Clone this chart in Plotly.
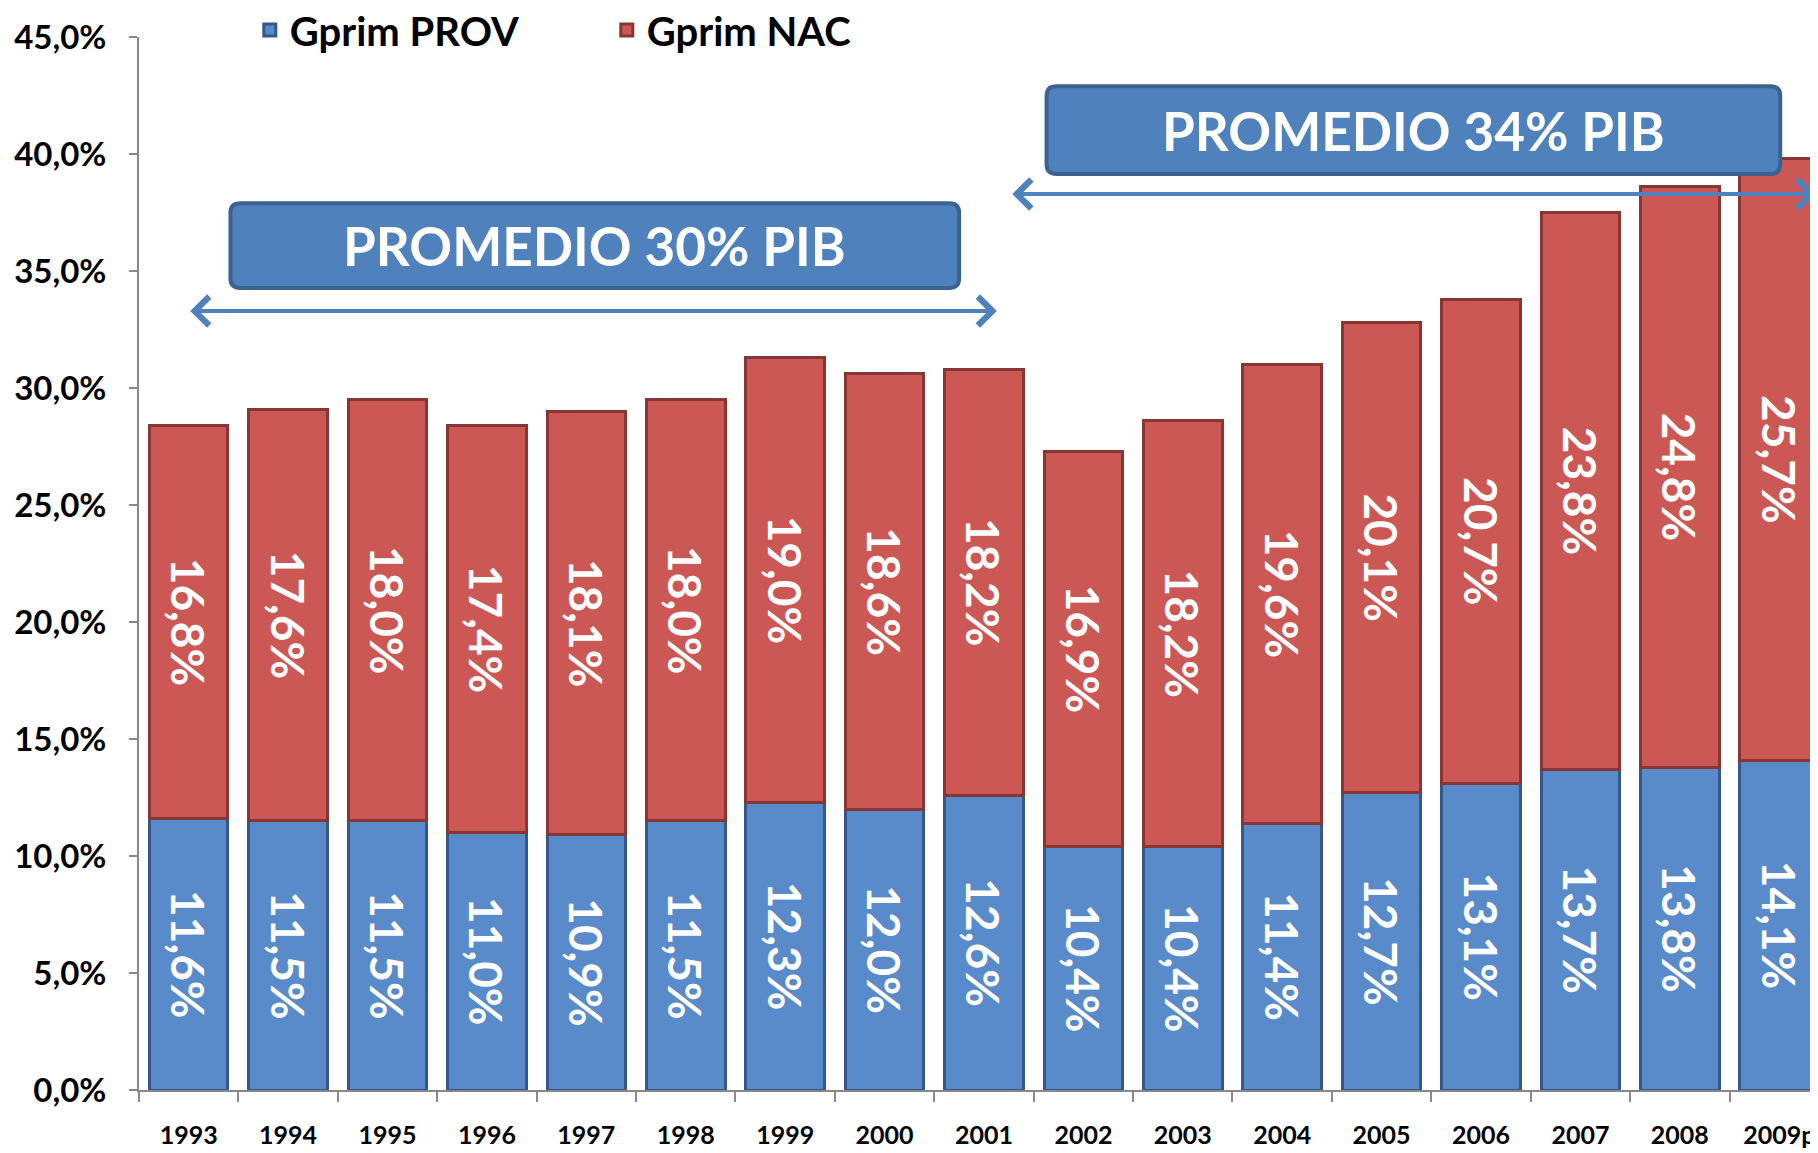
import plotly.graph_objects as go

years = ["1993", "1994", "1995", "1996", "1997", "1998", "1999", "2000", "2001",
         "2002", "2003", "2004", "2005", "2006", "2007", "2008", "2009p"]
gprim_prov = [11.6, 11.5, 11.5, 11.0, 10.9, 11.5, 12.3, 12.0, 12.6,
              10.4, 10.4, 11.4, 12.7, 13.1, 13.7, 13.8, 14.1]
gprim_nac = [16.8, 17.6, 18.0, 17.4, 18.1, 18.0, 19.0, 18.6, 18.2,
             16.9, 18.2, 19.6, 20.1, 20.7, 23.8, 24.8, 25.7]
y_ticks = [0, 5, 10, 15, 20, 25, 30, 35, 40, 45]
y_ticktext = [f"{v:.1f}".replace(".", ",") + "%" for v in y_ticks]

FONT = "Lato"
BLUE = "#598BCB"
BLUE_EDGE = "#35578A"
RED = "#CC5855"
RED_EDGE = "#883634"
BOX = "#4F81BD"
BOX_EDGE = "#3B6291"

X_RANGE = [-0.5, 16.39]
Y_RANGE = [0, 45]

fig = go.Figure()
for name, vals, col, edge in [("Gprim PROV", gprim_prov, BLUE, BLUE_EDGE),
                              ("Gprim NAC", gprim_nac, RED, RED_EDGE)]:
    fig.add_trace(go.Bar(
        x=years, y=vals, name=name,
        marker=dict(color=col, line=dict(color=edge, width=3)),
        texttemplate="%{y:.1f}%", textposition="inside", insidetextanchor="middle",
        textangle=90, constraintext="none",
        insidetextfont=dict(family=FONT, size=46, color="white", weight="bold"),
    ))


def px(x):
    return (x - X_RANGE[0]) / (X_RANGE[1] - X_RANGE[0])


def py(y):
    return (y - Y_RANGE[0]) / (Y_RANGE[1] - Y_RANGE[0])


def rounded_rect(x0, x1, y0, y1, rx=0.006, ry=0.009):
    X0, X1, Y0, Y1 = px(x0), px(x1), py(y0), py(y1)
    return (f"M{X0+rx},{Y0} L{X1-rx},{Y0} Q{X1},{Y0} {X1},{Y0+ry} "
            f"L{X1},{Y1-ry} Q{X1},{Y1} {X1-rx},{Y1} L{X0+rx},{Y1} "
            f"Q{X0},{Y1} {X0},{Y1-ry} L{X0},{Y0+ry} Q{X0},{Y0} {X0+rx},{Y0} Z")


# Boxes with text
boxes = [
    dict(x0=0.42, x1=7.75, y0=34.27, y1=37.9, text="PROMEDIO 30% PIB"),
    dict(x0=8.63, x1=16.01, y0=39.15, y1=42.9, text="PROMEDIO 34% PIB"),
]
for b in boxes:
    fig.add_shape(type="path", xref="paper", yref="paper",
                  path=rounded_rect(b["x0"], b["x1"], b["y0"], b["y1"]),
                  fillcolor=BOX, line=dict(color=BOX_EDGE, width=4), layer="above")
    fig.add_annotation(xref="x", yref="y", x=(b["x0"] + b["x1"]) / 2,
                       y=(b["y0"] + b["y1"]) / 2, text=b["text"], showarrow=False,
                       font=dict(family=FONT, size=53, color="white", weight="bold"))

# Double-headed arrows
arrows = [
    dict(x0=0.0, x1=8.13, y=33.29),
    dict(x0=8.27, x1=16.37, y=38.29),
]
for a in arrows:
    fig.add_annotation(xref="x", yref="y", axref="x", ayref="y",
                       x=a["x1"], y=a["y"], ax=a["x0"], ay=a["y"], text="",
                       showarrow=True, arrowside="end+start", arrowhead=4,
                       startarrowhead=4, arrowsize=1.4, startarrowsize=1.4,
                       arrowwidth=4, arrowcolor=BOX)

fig.update_layout(
    width=1818, height=1153,
    margin=dict(l=131, r=8, t=29, b=71, autoexpand=False),
    barmode="stack", bargap=0.21,
    plot_bgcolor="white", paper_bgcolor="white",
    separators=",.",
    font=dict(family=FONT, color="black"),
    legend=dict(orientation="h", xref="container", yref="container",
                x=0.133, y=0.981, xanchor="left", yanchor="middle",
                font=dict(family=FONT, size=40, color="black", weight="bold"),
                entrywidthmode="pixels", entrywidth=312, traceorder="normal",
                bgcolor="rgba(0,0,0,0)"),
    xaxis=dict(range=X_RANGE, showline=True, linecolor="#888888", linewidth=2,
               ticks="outside", tickson="boundaries", ticklen=10, tickcolor="#888888",
               tickwidth=2, showgrid=False, ticklabelstandoff=22,
               tickfont=dict(family=FONT, size=25, color="black", weight="bold")),
    yaxis=dict(range=Y_RANGE, showline=True, linecolor="#888888", linewidth=2,
               ticks="outside", ticklen=8, tickcolor="#888888", tickwidth=2,
               tickvals=y_ticks, ticktext=y_ticktext, showgrid=False,
               zeroline=False, ticklabelstandoff=16,
               tickfont=dict(family=FONT, size=33, color="black", weight="bold")),
)

fig.write_html("out.html")
